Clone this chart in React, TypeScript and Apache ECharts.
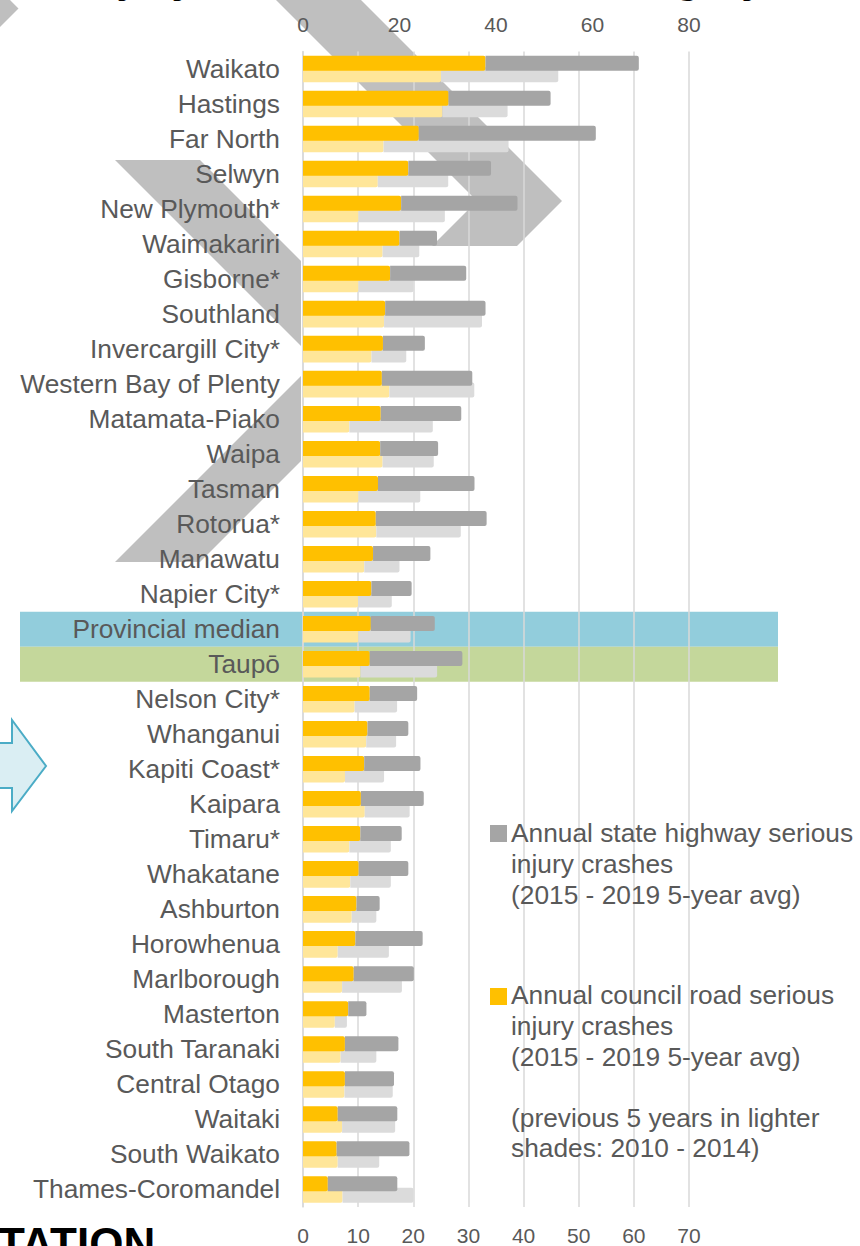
import React, { useEffect, useRef } from 'react';
import * as echarts from 'echarts';

const categories = [
  'Waikato', 'Hastings', 'Far North', 'Selwyn', 'New Plymouth*', 'Waimakariri', 'Gisborne*',
  'Southland', 'Invercargill City*', 'Western Bay of Plenty', 'Matamata-Piako', 'Waipa', 'Tasman',
  'Rotorua*', 'Manawatu', 'Napier City*', 'Provincial median', 'Taupō', 'Nelson City*', 'Whanganui',
  'Kapiti Coast*', 'Kaipara', 'Timaru*', 'Whakatane', 'Ashburton', 'Horowhenua', 'Marlborough',
  'Masterton', 'South Taranaki', 'Central Otago', 'Waitaki', 'South Waikato', 'Thames-Coromandel',
];

// 2015 - 2019 (bottom axis)
const councilNow = [33.1, 26.4, 21.0, 19.1, 17.8, 17.5, 15.8, 14.9, 14.5, 14.3, 14.1, 14.0, 13.6, 13.2, 12.7, 12.4, 12.3, 12.1, 12.1, 11.7, 11.1, 10.5, 10.4, 10.1, 9.7, 9.5, 9.2, 8.2, 7.6, 7.6, 6.3, 6.1, 4.5];
const stateHwyNow = [27.8, 18.5, 32.1, 15.0, 21.1, 6.8, 13.8, 18.2, 7.6, 16.4, 14.6, 10.5, 17.5, 20.1, 10.4, 7.3, 11.6, 16.8, 8.6, 7.4, 10.2, 11.4, 7.5, 9.0, 4.2, 12.2, 10.9, 3.3, 9.7, 8.9, 10.8, 13.2, 12.6];
// 2010 - 2014 (top axis)
const councilPrev = [28.6, 28.9, 16.7, 15.5, 11.5, 16.5, 11.5, 16.8, 14.2, 17.9, 9.6, 16.5, 11.5, 15.2, 12.7, 11.4, 11.5, 11.9, 10.7, 13.1, 8.7, 12.8, 9.6, 9.8, 10.1, 7.2, 8.1, 6.6, 7.8, 8.6, 8.1, 7.2, 8.2];
const stateHwyPrev = [24.3, 13.5, 25.9, 14.6, 17.9, 7.6, 11.4, 20.3, 7.2, 17.6, 17.3, 10.6, 12.8, 17.5, 7.3, 7.0, 10.8, 15.9, 8.8, 6.2, 8.1, 9.3, 8.6, 8.4, 5.1, 10.6, 12.4, 2.5, 7.4, 10.0, 11.0, 8.6, 14.7];

const bottomAxisMax = 70;
const bottomAxisStep = 10;
const topAxisMax = 80;
const topAxisStep = 20;

const legendStateLines = ['Annual state highway serious', 'injury crashes', '(2015 - 2019 5-year avg)'];
const legendCouncilLines = ['Annual council road serious', 'injury crashes', '(2015 - 2019 5-year avg)', '', '(previous 5 years in lighter', 'shades: 2010 - 2014)'];

const FONT = "'Liberation Sans', Arial, Helvetica, sans-serif";
const TEXT = '#595959';

// PowerPoint-style chevron outline (decoration)
function chevron(ax: number, ay: number, w = 85, d = 201) {
  return [
    [ax - d - w, ay - d], [ax - d, ay - d], [ax, ay], [ax - d, ay + d], [ax - d - w, ay + d], [ax - w, ay],
  ];
}

export default function App() {
  const ref = useRef<HTMLDivElement>(null);

  useEffect(() => {
    const el = ref.current;
    if (!el) return;
    const chart = echarts.init(el, undefined, { renderer: 'svg' });
    const gridTop = 51.5;
    const gridHeight = 1157;

    chart.setOption({
      animation: false,
      backgroundColor: '#ffffff',
      textStyle: { fontFamily: FONT },
      grid: { left: 303, top: gridTop, width: 386, height: gridHeight, containLabel: false },
      xAxis: [
        {
          type: 'value', position: 'bottom', min: 0, max: bottomAxisMax, interval: bottomAxisStep,
          axisLine: { show: false }, axisTick: { show: false },
          splitLine: { show: true, lineStyle: { color: '#D9D9D9', width: 1.5 } },
          axisLabel: { fontSize: 21, color: TEXT, margin: 18, fontFamily: FONT },
        },
        {
          type: 'value', position: 'top', min: 0, max: topAxisMax, interval: topAxisStep,
          axisLine: { show: false }, axisTick: { show: false }, splitLine: { show: false },
          axisLabel: { fontSize: 21, color: TEXT, margin: 17, fontFamily: FONT },
        },
      ],
      yAxis: {
        type: 'category', data: categories, inverse: true,
        axisLine: { show: true, lineStyle: { color: '#D9D9D9', width: 1.5 } },
        axisTick: { show: false },
        axisLabel: { interval: 0, fontSize: 26.3, color: TEXT, margin: 23, fontFamily: FONT },
      },
      series: [
        {
          name: 'Annual council road serious injury crashes (2015 - 2019 5-year avg)',
          type: 'bar', stack: 'now', xAxisIndex: 0, data: councilNow, barWidth: 15, barGap: '-23%', z: 4,
          itemStyle: { color: '#FFC000', borderRadius: [0, 2, 2, 0] },
        },
        {
          name: 'Annual state highway serious injury crashes (2015 - 2019 5-year avg)',
          type: 'bar', stack: 'now', xAxisIndex: 0, data: stateHwyNow, barWidth: 15, barGap: '-23%', z: 4,
          itemStyle: { color: '#A5A5A5', borderRadius: [0, 2, 2, 0] },
        },
        {
          name: 'Annual council road serious injury crashes (2010 - 2014 5-year avg)',
          type: 'bar', stack: 'prev', xAxisIndex: 1, data: councilPrev, barWidth: 15, barGap: '-23%', z: 3,
          itemStyle: { color: '#FFE699', borderRadius: [0, 2, 2, 0] },
        },
        {
          name: 'Annual state highway serious injury crashes (2010 - 2014 5-year avg)',
          type: 'bar', stack: 'prev', xAxisIndex: 1, data: stateHwyPrev, barWidth: 15, barGap: '-23%', z: 3,
          itemStyle: { color: '#DBDBDB', borderRadius: [0, 2, 2, 0] },
        },
      ],
    });

    const band = gridHeight / categories.length;
    const yMedian = chart.convertToPixel({ yAxisIndex: 0 }, 'Provincial median') as number;
    const yTaupo = chart.convertToPixel({ yAxisIndex: 0 }, 'Taupō') as number;

    const grey = '#BFBFBF';
    const legendText = (lines: string[], x: number, y: number) => ({
      type: 'text', x, y, z: 5,
      style: { text: lines.join('\n'), font: `26.3px ${FONT}`, fill: TEXT, lineHeight: 30.6, verticalAlign: 'top' },
    });

    chart.setOption({
      graphic: {
        elements: [
          // decorative chevrons (behind everything)
          { type: 'polygon', z: -20, shape: { points: chevron(562, 201) }, style: { fill: grey } },
          { type: 'polygon', z: -20, shape: { points: chevron(401, 361) }, style: { fill: grey } },
          { type: 'polygon', z: -20, shape: { points: chevron(18.5, 8.5) }, style: { fill: grey } },
          // white chart area hiding the chevrons in the lower plot
          { type: 'rect', z: -15, shape: { x: 301, y: 246, width: 559, height: 1000 }, style: { fill: '#ffffff' } },
          // highlight bands
          { type: 'rect', z: -10, shape: { x: 20, y: yMedian - band / 2, width: 758, height: band }, style: { fill: '#92CDDC' } },
          { type: 'rect', z: -10, shape: { x: 20, y: yTaupo - band / 2, width: 758, height: band }, style: { fill: '#C4D79B' } },
          // arrow
          { type: 'polygon', z: 5, shape: { points: [[-10, 743], [12, 743], [12, 720], [46, 766], [12, 811], [12, 788], [-10, 788]] }, style: { fill: '#DAEEF3', stroke: '#4BACC6', lineWidth: 2 } },
          // legend
          { type: 'rect', z: 5, shape: { x: 490, y: 825, width: 17, height: 17 }, style: { fill: '#A5A5A5' } },
          legendText(legendStateLines, 511, 818),
          { type: 'rect', z: 5, shape: { x: 490, y: 988, width: 17, height: 17 }, style: { fill: '#FFC000' } },
          legendText(legendCouncilLines, 511, 980),
          // slide texts cut off by the picture edges
          { type: 'text', z: 5, x: -79, y: -1, style: { text: 'Serious injury crashes for council category', font: `bold 41px ${FONT}`, fill: '#000', verticalAlign: 'bottom' } },
          { type: 'text', z: 5, x: -2, y: 1221, style: { text: 'TATION', font: `bold 44px ${FONT}`, fill: '#000', verticalAlign: 'top' } },
        ],
      },
    });

    return () => chart.dispose();
  }, []);

  return <div ref={ref} style={{ position: 'fixed', left: 0, top: 0, width: 860, height: 1246 }} />;
}
